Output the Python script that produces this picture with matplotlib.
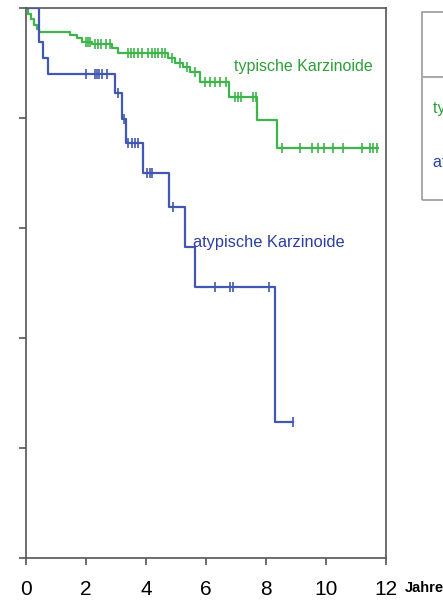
import matplotlib.pyplot as plt
from matplotlib.patches import Rectangle
from matplotlib.lines import Line2D

# Kaplan-Meier steps (years, survival fraction)
typ_times = [0, 0.05, 0.15, 0.25, 0.35, 0.43, 1.47, 1.7, 1.87, 2.2, 2.87, 3.07,
             4.73, 4.97, 5.23, 5.47, 5.8, 6.77, 7.7, 8.37, 11.73]
typ_surv = [1.0, 0.99, 0.98, 0.97, 0.962, 0.956, 0.951, 0.945, 0.938, 0.935, 0.927, 0.918,
            0.909, 0.9, 0.893, 0.884, 0.865, 0.838, 0.796, 0.745, 0.745]
typ_censor = [2.0, 2.07, 2.13, 2.3, 2.4, 2.5, 2.67, 2.8, 3.4, 3.5, 3.6, 3.73, 3.87,
              4.07, 4.2, 4.3, 4.4, 4.53, 4.63, 4.87, 5.13, 5.37, 5.63, 5.97, 6.13,
              6.3, 6.47, 6.67, 6.97, 7.07, 7.17, 7.57, 7.67, 8.53, 9.13, 9.53, 9.73,
              9.93, 10.23, 10.57, 11.2, 11.47, 11.57, 11.7]

atyp_times = [0, 0.43, 0.57, 0.73, 2.97, 3.2, 3.33, 3.9, 4.77, 5.3, 5.63, 8.3, 8.9]
atyp_surv = [1.0, 0.938, 0.909, 0.88, 0.845, 0.798, 0.755, 0.7, 0.638, 0.565, 0.493,
             0.247, 0.247]
atyp_censor = [2.0, 2.3, 2.37, 2.43, 2.53, 2.7, 3.07, 3.25, 3.4, 3.53, 3.63, 3.73,
               4.03, 4.13, 4.2, 4.9, 6.3, 6.8, 6.9, 8.1, 8.9]

x_ticks = [0, 2, 4, 6, 8, 10, 12]
y_ticks = [0, 0.2, 0.4, 0.6, 0.8, 1.0]

GREEN = "#3db54a"
BLUE = "#4257b2"
GREEN_TXT = "#2e9e3a"
BLUE_TXT = "#2a3fa0"
FONT = ["Liberation Sans", "DejaVu Sans"]


def surv_at(times, surv, t):
    s = surv[0]
    for ti, si in zip(times, surv):
        if ti <= t:
            s = si
    return s


def draw_km(ax, times, surv, censor, color):
    ax.step(times, surv, where="post", color=color, lw=1.6, zorder=3)
    cy = [surv_at(times, surv, t) for t in censor]
    ax.plot(censor, cy, ls="none", marker="|", ms=7, mew=1.2, color=color, zorder=3)


def main():
    plt.rcParams["font.family"] = FONT
    fig = plt.figure(figsize=(4.43, 6.02), dpi=100)
    ax = fig.add_axes([26 / 443, 1 - 558 / 602, 360 / 443, 550 / 602])

    draw_km(ax, typ_times, typ_surv, typ_censor, GREEN)
    draw_km(ax, atyp_times, atyp_surv, atyp_censor, BLUE)

    ax.set_xlim(0, 12)
    ax.set_ylim(0, 1.0)
    ax.set_xticks(x_ticks)
    ax.set_xticklabels([str(v) for v in x_ticks])
    ax.set_yticks(y_ticks)
    ax.set_yticklabels([])
    for s in ax.spines.values():
        s.set_color("#555555")
        s.set_linewidth(1.2)
    ax.tick_params(axis="both", direction="out", length=5, width=1.2, color="#555555")
    ax.tick_params(axis="x", labelsize=15, pad=11)

    ax.text(12.63, -0.055, "Jahre", transform=ax.get_xaxis_transform(),
            fontsize=10.5, fontweight="bold", va="center", ha="left", clip_on=False)

    ax.text(6.93, 0.893, "typische Karzinoide", color=GREEN_TXT, fontsize=11.5,
            va="center", ha="left")
    ax.text(5.57, 0.573, "atypische Karzinoide", color=BLUE_TXT, fontsize=11.8,
            va="center", ha="left")

    # legend box, cut by the right edge of the picture
    fig.add_artist(Rectangle((422 / 443, 1 - 200 / 602), 60 / 443, 188 / 602,
                             transform=fig.transFigure, fill=False,
                             edgecolor="#999999", lw=1.2))
    fig.add_artist(Line2D([422 / 443, 1.0], [1 - 77 / 602, 1 - 77 / 602],
                          transform=fig.transFigure, color="#aaaaaa", lw=1.5))
    fig.text(433 / 443, 1 - 108 / 602, "typische Karzinoide", color=GREEN_TXT,
             fontsize=11.5, va="center", ha="left")
    fig.text(433 / 443, 1 - 163 / 602, "atypische Karzinoide", color=BLUE_TXT,
             fontsize=11.5, va="center", ha="left")

    fig.savefig("out.png", dpi=100)


if __name__ == "__main__":
    main()
